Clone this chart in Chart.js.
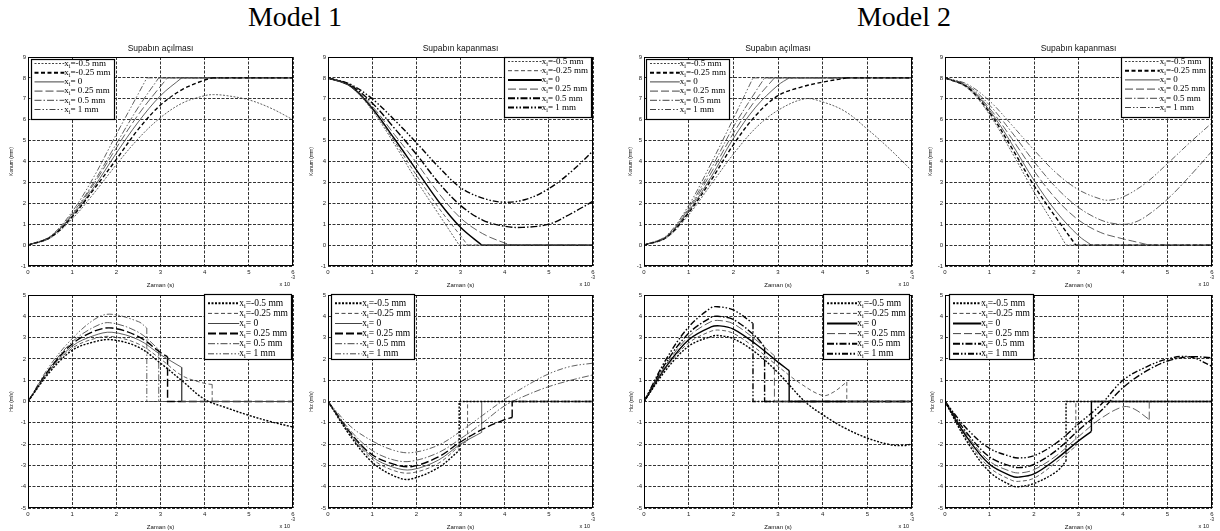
<!DOCTYPE html>
<html>
<head>
<meta charset="utf-8">
<script src="https://cdn.jsdelivr.net/npm/chart.js@4.4.0/dist/chart.umd.min.js"></script>
<style>
  body { margin: 0; background: #fff; width: 1220px; height: 531px; overflow: hidden; position: relative; }
  .model { position: absolute; top: 3px; width: 200px; text-align: center; font: 28px/28px "Liberation Serif", serif; color: #000; }
</style>
</head>
<body>
<div class="model" style="left:195px">Model 1</div>
<div class="model" style="left:804px">Model 2</div>
<script>
// series order in every panel: xi = -0.5, -0.25, 0, 0.25, 0.5, 1 mm
// points are [time (x1e-3 s), value]
const xiLabels = ['=-0.5 mm', '=-0.25 mm', '= 0', '= 0.25 mm', '= 0.5 mm', '= 1 mm'];
const timeTicks = [0, 1, 2, 3, 4, 5, 6];

const m1PosOpen = [
  [[0,0],[0.5,0.33],[1,1.25],[1.5,2.5],[2,3.85],[2.5,5.1],[3,6.1],[3.5,6.8],[4,7.15],[4.2,7.2],[4.5,7.15],[5,6.95],[5.5,6.55],[6,6.0]],
  [[0,0],[0.5,0.36],[1,1.35],[1.5,2.7],[2,4.1],[2.5,5.55],[3,6.7],[3.5,7.45],[4,7.9],[4.17,8],[6,8]],
  [[0,0],[0.5,0.37],[1,1.4],[1.5,2.8],[2,4.4],[2.5,5.9],[3,7.15],[3.48,8],[6,8]],
  [[0,0],[0.5,0.39],[1,1.45],[1.5,2.95],[2,4.65],[2.5,6.25],[3,7.6],[3.16,8],[6,8]],
  [[0,0],[0.5,0.4],[1,1.5],[1.5,3.05],[2,4.85],[2.5,6.6],[2.96,8],[6,8]],
  [[0,0],[0.5,0.42],[1,1.6],[1.5,3.3],[2,5.3],[2.5,7.25],[2.69,8],[6,8]]
];

const m1PosClose = [
  [[0,8],[0.5,7.6],[1,6.45],[1.5,4.85],[2,3.1],[2.5,1.5],[2.97,0],[6,0]],
  [[0,8],[0.5,7.61],[1,6.5],[1.5,4.98],[2,3.35],[2.5,1.8],[3,0.45],[3.16,0],[6,0]],
  [[0,8],[0.5,7.62],[1,6.55],[1.5,5.1],[2,3.6],[2.5,2.1],[3,0.85],[3.48,0],[6,0]],
  [[0,8],[0.5,7.64],[1,6.65],[1.5,5.3],[2,3.95],[2.5,2.5],[3,1.3],[3.5,0.55],[4,0.1],[4.17,0],[6,0]],
  [[0,8],[0.5,7.66],[1,6.8],[1.5,5.6],[2,4.35],[2.5,3.0],[3,1.9],[3.5,1.2],[4,0.9],[4.4,0.85],[5,1.0],[5.5,1.5],[6,2.1]],
  [[0,8],[0.5,7.7],[1,7.0],[1.5,6.0],[2,4.9],[2.5,3.75],[3,2.75],[3.5,2.25],[4,2.05],[4.5,2.2],[5,2.7],[5.5,3.5],[6,4.5]]
];

const m1VelOpen = [
  [[0,0],[0.5,1.4],[1,2.4],[1.5,2.8],[1.9,2.9],[2.5,2.55],[3,1.8],[3.5,0.95],[4,0.1],[4.5,-0.3],[5,-0.65],[5.5,-0.95],[6,-1.2]],
  [[0,0],[0.5,1.45],[1,2.5],[1.5,2.95],[1.9,3.05],[2.5,2.7],[3,2.0],[3.5,1.2],[4,0.85],[4.17,0.8],[4.17,0],[6,0]],
  [[0,0],[0.5,1.5],[1,2.6],[1.5,3.1],[1.9,3.25],[2.5,2.9],[3,2.2],[3.48,1.6],[3.48,0],[6,0]],
  [[0,0],[0.5,1.55],[1,2.7],[1.5,3.3],[1.9,3.45],[2.5,3.05],[3,2.3],[3.16,2.1],[3.16,0],[6,0]],
  [[0,0],[0.5,1.6],[1,2.8],[1.5,3.5],[1.85,3.7],[2.5,3.25],[2.96,2.45],[2.96,0],[6,0]],
  [[0,0],[0.5,1.7],[1,2.95],[1.5,3.85],[1.85,4.1],[2.5,3.75],[2.69,3.45],[2.69,0],[6,0]]
];

const m1VelClose = [
  [[0,0],[0.5,-1.6],[1,-2.85],[1.5,-3.5],[1.85,-3.65],[2.5,-3.1],[2.97,-2.3],[2.97,0],[6,0]],
  [[0,0],[0.5,-1.55],[1,-2.7],[1.5,-3.25],[1.9,-3.35],[2.5,-2.9],[3,-2.05],[3.16,-1.85],[3.16,0],[6,0]],
  [[0,0],[0.5,-1.5],[1,-2.6],[1.5,-3.1],[1.9,-3.2],[2.5,-2.75],[3,-2.0],[3.48,-1.45],[3.48,0],[6,0]],
  [[0,0],[0.5,-1.45],[1,-2.5],[1.5,-2.95],[1.9,-3.05],[2.5,-2.6],[3,-1.9],[3.5,-1.3],[4,-0.85],[4.17,-0.75],[4.17,0],[6,0]],
  [[0,0],[0.5,-1.35],[1,-2.3],[1.5,-2.75],[1.9,-2.8],[2.5,-2.4],[3,-1.75],[3.5,-1.0],[4,-0.2],[4.5,0.3],[5,0.7],[5.5,1.0],[6,1.25]],
  [[0,0],[0.5,-1.15],[1,-1.85],[1.5,-2.3],[1.9,-2.4],[2.5,-2.05],[3,-1.4],[3.5,-0.65],[4,0.1],[4.5,0.75],[5,1.3],[5.5,1.65],[6,1.8]]
];

const m2PosOpen = [
  [[0,0],[0.5,0.35],[1,1.45],[1.5,2.9],[2,4.35],[2.5,5.6],[3,6.45],[3.6,7.0],[4,6.85],[4.5,6.4],[5,5.55],[5.5,4.6],[6,3.55]],
  [[0,0],[0.5,0.36],[1,1.55],[1.5,3.1],[2,4.8],[2.5,6.2],[3,7.15],[3.5,7.55],[4,7.8],[4.54,8],[6,8]],
  [[0,0],[0.5,0.38],[1,1.62],[1.5,3.25],[2,5.1],[2.5,6.6],[3,7.65],[3.25,8],[6,8]],
  [[0,0],[0.5,0.4],[1,1.7],[1.5,3.45],[2,5.35],[2.5,6.95],[2.92,8],[6,8]],
  [[0,0],[0.5,0.42],[1,1.78],[1.5,3.65],[2,5.65],[2.5,7.35],[2.7,8],[6,8]],
  [[0,0],[0.5,0.45],[1,1.9],[1.5,3.9],[2,6.05],[2.44,8],[6,8]]
];

const m2PosClose = [
  [[0,8],[0.5,7.52],[1,6.25],[1.5,4.45],[2,2.55],[2.5,0.8],[2.72,0],[6,0]],
  [[0,8],[0.5,7.55],[1,6.35],[1.5,4.65],[2,2.85],[2.5,1.3],[2.94,0],[6,0]],
  [[0,8],[0.5,7.58],[1,6.45],[1.5,4.85],[2,3.1],[2.5,1.6],[3,0.45],[3.29,0],[6,0]],
  [[0,8],[0.5,7.6],[1,6.55],[1.5,5.1],[2,3.55],[2.5,2.2],[3,1.2],[3.5,0.6],[4,0.3],[4.3,0.15],[4.59,0],[6,0]],
  [[0,8],[0.5,7.65],[1,6.7],[1.5,5.4],[2,4.0],[2.5,2.75],[3,1.8],[3.5,1.2],[3.9,1.0],[4.2,1.05],[4.5,1.35],[5,2.2],[5.5,3.3],[6,4.5]],
  [[0,8],[0.5,7.7],[1,6.9],[1.5,5.75],[2,4.55],[2.5,3.45],[3,2.65],[3.5,2.2],[3.7,2.15],[4,2.3],[4.5,2.95],[5,3.9],[5.5,4.9],[6,5.85]]
];

const m2VelOpen = [
  [[0,0],[0.5,1.5],[1,2.6],[1.5,3.05],[1.65,3.1],[2,2.95],[2.5,2.3],[3,1.35],[3.6,0],[4,-0.62],[4.5,-1.25],[5,-1.72],[5.5,-2.02],[5.8,-2.07],[6,-2.0]],
  [[0,0],[0.5,1.6],[1,2.75],[1.5,3.3],[1.7,3.35],[2,3.2],[2.5,2.5],[3,1.65],[3.5,0.85],[4,0.28],[4.25,0.45],[4.54,0.92],[4.54,0],[6,0]],
  [[0,0],[0.5,1.65],[1,2.9],[1.5,3.5],[1.7,3.55],[2,3.4],[2.5,2.7],[3,1.85],[3.25,1.45],[3.25,0],[6,0]],
  [[0,0],[0.5,1.75],[1,3.05],[1.5,3.75],[1.7,3.8],[2,3.65],[2.5,2.9],[2.92,2.15],[2.92,0],[6,0]],
  [[0,0],[0.5,1.85],[1,3.2],[1.5,3.95],[1.65,4.0],[2,3.85],[2.5,3.05],[2.7,2.55],[2.7,0],[6,0]],
  [[0,0],[0.5,2.0],[1,3.5],[1.5,4.4],[1.65,4.45],[2,4.3],[2.44,3.67],[2.44,0],[6,0]]
];

const m2VelClose = [
  [[0,0],[0.5,-1.9],[1,-3.3],[1.5,-3.95],[1.65,-4.0],[2,-3.85],[2.5,-3.3],[2.72,-2.8],[2.72,0],[6,0]],
  [[0,0],[0.5,-1.8],[1,-3.1],[1.5,-3.7],[1.65,-3.75],[2,-3.6],[2.5,-2.85],[2.94,-2.1],[2.94,0],[6,0]],
  [[0,0],[0.5,-1.7],[1,-2.95],[1.5,-3.5],[1.65,-3.55],[2,-3.4],[2.5,-2.7],[3,-1.85],[3.29,-1.4],[3.29,0],[6,0]],
  [[0,0],[0.5,-1.6],[1,-2.8],[1.5,-3.3],[1.7,-3.35],[2,-3.2],[2.5,-2.55],[3,-1.65],[3.5,-0.8],[4,-0.25],[4.25,-0.35],[4.59,-0.85],[4.59,0],[6,0]],
  [[0,0],[0.5,-1.5],[1,-2.6],[1.5,-3.05],[1.7,-3.1],[2,-2.95],[2.5,-2.3],[3,-1.35],[3.5,-0.45],[4,0.65],[4.5,1.4],[5,1.9],[5.5,2.1],[6,2.05]],
  [[0,0],[0.5,-1.3],[1,-2.2],[1.5,-2.6],[1.65,-2.65],[2,-2.55],[2.5,-1.95],[3,-1.05],[3.5,-0.15],[4,1.0],[4.5,1.6],[5,2.0],[5.5,2.1],[6,1.65]]
];

// line styles per series: dotted-dash, dashed, solid, long dash, dash-dot, dash-dot-dot
const dashes = [[2, 1.5], [4, 2.5], [], [8, 3], [7, 2, 1.5, 2], [6, 2, 1.5, 2, 1.5, 2]];
const THIN = 1, THICK = 2;

const topLegend = { top0: 4.5, step: 9.2, h: 61, font: 9 };
const botLegend = { top0: 9.3, step: 10.1, h: 66, font: 9.5 };

const panels = [
  { data: m1PosOpen, rect: [28, 57, 293, 266], y: [-1, 9], title: 'Supabın açılması', yLabel: 'Konum (mm)', yOff: 16.5,
    widths: [THIN, THICK, THIN, THIN, THIN, THIN], legend: { side: 'left', dx: 2.5, dy: 2, w: 84, ...topLegend } },
  { data: m1PosClose, rect: [328, 57, 593, 266], y: [-1, 9], title: 'Supabın kapanması', yLabel: 'Konum (mm)', yOff: 16.5,
    widths: [THIN, THIN, THICK, THIN, THICK, THICK], legend: { side: 'right', dx: 1, dy: 0, w: 88, ...topLegend } },
  { data: m1VelOpen, rect: [28, 295, 293, 508], y: [-5, 5], yLabel: 'Hız (m/s)', yOff: 16.5,
    widths: [THICK, THIN, THIN, THICK, THIN, THIN], legend: { side: 'right', dx: 1, dy: -1, w: 88, ...botLegend } },
  { data: m1VelClose, rect: [328, 295, 593, 508], y: [-5, 5], yLabel: 'Hız (m/s)', yOff: 16.5,
    widths: [THICK, THIN, THIN, THICK, THIN, THIN], legend: { side: 'left', dx: 3, dy: -1, w: 84, ...botLegend } },
  { data: m2PosOpen, rect: [644, 57, 912, 266], y: [-1, 9], title: 'Supabın açılması', yLabel: 'Konum (mm)', yOff: 13.5,
    widths: [THIN, THICK, THIN, THIN, THIN, THIN], legend: { side: 'left', dx: 2, dy: 2, w: 84, ...topLegend } },
  { data: m2PosClose, rect: [945, 57, 1212, 266], y: [-1, 9], title: 'Supabın kapanması', yLabel: 'Konum (mm)', yOff: 14,
    widths: [THIN, THICK, THIN, THIN, THIN, THIN], legend: { side: 'right', dx: 2, dy: 0, w: 89, ...topLegend } },
  { data: m2VelOpen, rect: [644, 295, 912, 508], y: [-5, 5], yLabel: 'Hız (m/s)', yOff: 12.5,
    widths: [THICK, THIN, THICK, THIN, THICK, THICK], legend: { side: 'right', dx: 2, dy: -1, w: 87, ...botLegend } },
  { data: m2VelClose, rect: [945, 295, 1212, 508], y: [-5, 5], yLabel: 'Hız (m/s)', yOff: 12.5,
    widths: [THICK, THIN, THICK, THIN, THICK, THICK], legend: { side: 'left', dx: 4, dy: -1, w: 85, ...botLegend } }
];

const PAD = { left: 30, top: 16, right: 14, bottom: 24 };
const lineColor = w => (w === THICK ? '#000' : '#444');
// curves inside the axes are drawn a little lighter than the legend samples
const plotWidth = w => (w === THICK ? 1.4 : 0.85);

// the smooth part runs until the valve hits a stop (vertical jump or flat tail)
function splitSeries(pts) {
  for (let i = 0; i < pts.length - 1; i++) {
    const jump = pts[i + 1][0] === pts[i][0];
    const flat = pts.slice(i).every(p => p[1] === pts[i][1]);
    if (jump || flat) return [pts.slice(0, i + 1), pts.slice(i)];
  }
  return [pts, []];
}

const toXY = pts => pts.map(([x, y]) => ({ x, y }));

const panelDecor = {
  id: 'panelDecor',
  afterDraw(chart, args, o) {
    const ctx = chart.ctx, a = chart.chartArea;
    const cx = (a.left + a.right) / 2;
    ctx.save();
    ctx.setLineDash([]);
    ctx.strokeStyle = '#000';
    ctx.lineWidth = 1;
    ctx.strokeRect(Math.round(a.left) + 0.5, Math.round(a.top) + 0.5,
                   Math.round(a.right - a.left) - 1, Math.round(a.bottom - a.top) - 1);

    ctx.fillStyle = '#111';
    ctx.textAlign = 'center';
    ctx.textBaseline = 'middle';
    if (o.title) {
      ctx.font = '8.5px "Liberation Sans"';
      ctx.fillText(o.title, cx, a.top - 8);
    }
    ctx.font = '6px "Liberation Sans"';
    ctx.fillText('Zaman (s)', cx, a.bottom + 19);
    ctx.textAlign = 'right';
    ctx.font = '5.5px "Liberation Sans"';
    ctx.fillText('x 10', a.right - 3, a.bottom + 18.5);
    ctx.textAlign = 'left';
    ctx.font = '4.5px "Liberation Sans"';
    ctx.fillText('-3', a.right - 2, a.bottom + 12);

    ctx.save();
    ctx.translate(a.left - o.yOff, (a.top + a.bottom) / 2);
    ctx.rotate(-Math.PI / 2);
    ctx.textAlign = 'center';
    ctx.font = '5px "Liberation Sans"';
    ctx.fillText(o.yLabel, 0, 0);
    ctx.restore();

    // legend box
    const lg = o.legend;
    const bx = lg.side === 'left' ? a.left + lg.dx : a.right - lg.dx - lg.w;
    const by = a.top + lg.dy;
    ctx.fillStyle = '#fff';
    ctx.fillRect(bx, by, lg.w, lg.h);
    ctx.strokeStyle = '#000';
    ctx.lineWidth = 1.2;
    ctx.strokeRect(Math.round(bx) + 0.5, Math.round(by) + 0.5, lg.w - 1, lg.h - 1);

    const big = `${lg.font}px "Liberation Serif"`;
    const small = `${(lg.font * 0.65).toFixed(1)}px "Liberation Serif"`;
    let maxW = 0;
    xiLabels.forEach(t => {
      ctx.font = big;
      let w = ctx.measureText('x' + t).width;
      ctx.font = small;
      w += ctx.measureText('i').width;
      maxW = Math.max(maxW, w);
    });
    const tx = bx + lg.w - 4 - maxW;
    xiLabels.forEach((t, k) => {
      const y = by + lg.top0 + k * lg.step;
      ctx.strokeStyle = lineColor(o.widths[k]);
      ctx.lineWidth = o.widths[k];
      ctx.setLineDash(dashes[k]);
      ctx.beginPath();
      ctx.moveTo(bx + 4, y);
      ctx.lineTo(tx, y);
      ctx.stroke();
      ctx.setLineDash([]);
      ctx.fillStyle = '#000';
      ctx.textAlign = 'left';
      ctx.textBaseline = 'middle';
      ctx.font = big;
      ctx.fillText('x', tx, y);
      let x = tx + ctx.measureText('x').width;
      ctx.font = small;
      ctx.fillText('i', x, y + lg.font * 0.3);
      x += ctx.measureText('i').width;
      ctx.font = big;
      ctx.fillText(t, x, y);
    });
    ctx.restore();
  }
};

const tickFont = { family: 'Liberation Sans', size: 6 };
const gridStyle = { color: '#333', lineWidth: 1, drawTicks: false };

panels.forEach(p => {
  const [L, T, R, B] = p.rect;
  const w = R - L + PAD.left + PAD.right;
  const h = B - T + PAD.top + PAD.bottom;
  const canvas = document.createElement('canvas');
  canvas.width = w;
  canvas.height = h;
  canvas.style.cssText = `position:absolute;left:${L - PAD.left}px;top:${T - PAD.top}px;width:${w}px;height:${h}px`;
  document.body.appendChild(canvas);

  const datasets = [];
  p.data.forEach((pts, k) => {
    const [curve, tail] = splitSeries(pts);
    const style = {
      borderColor: lineColor(p.widths[k]),
      borderWidth: plotWidth(p.widths[k]),
      borderDash: dashes[k],
      pointRadius: 0,
      fill: false
    };
    datasets.push({ ...style, data: toXY(curve), tension: 0.35 });
    if (tail.length) datasets.push({ ...style, data: toXY(tail), tension: 0 });
  });

  new Chart(canvas, {
    type: 'line',
    data: { datasets },
    plugins: [panelDecor],
    options: {
      responsive: false,
      animation: false,
      events: [],
      layout: { padding: { left: 0, top: PAD.top, right: PAD.right, bottom: 0 } },
      plugins: {
        legend: { display: false },
        tooltip: { enabled: false },
        panelDecor: { title: p.title, yLabel: p.yLabel, yOff: p.yOff, widths: p.widths, legend: p.legend }
      },
      scales: {
        x: {
          type: 'linear', min: timeTicks[0], max: timeTicks[timeTicks.length - 1],
          afterBuildTicks: s => { s.ticks = timeTicks.map(v => ({ value: v })); },
          ticks: { font: tickFont, color: '#222', padding: 3, autoSkip: false, maxRotation: 0 },
          grid: gridStyle,
          border: { display: false, dash: [3, 1.5] },
          afterFit: s => { s.height = PAD.bottom; }
        },
        y: {
          type: 'linear', min: p.y[0], max: p.y[1],
          ticks: { stepSize: 1, font: tickFont, color: '#222', padding: 2, autoSkip: false },
          grid: gridStyle,
          border: { display: false, dash: [3, 1.5] },
          afterFit: s => { s.width = PAD.left; }
        }
      }
    }
  });
});
</script>
</body>
</html>
